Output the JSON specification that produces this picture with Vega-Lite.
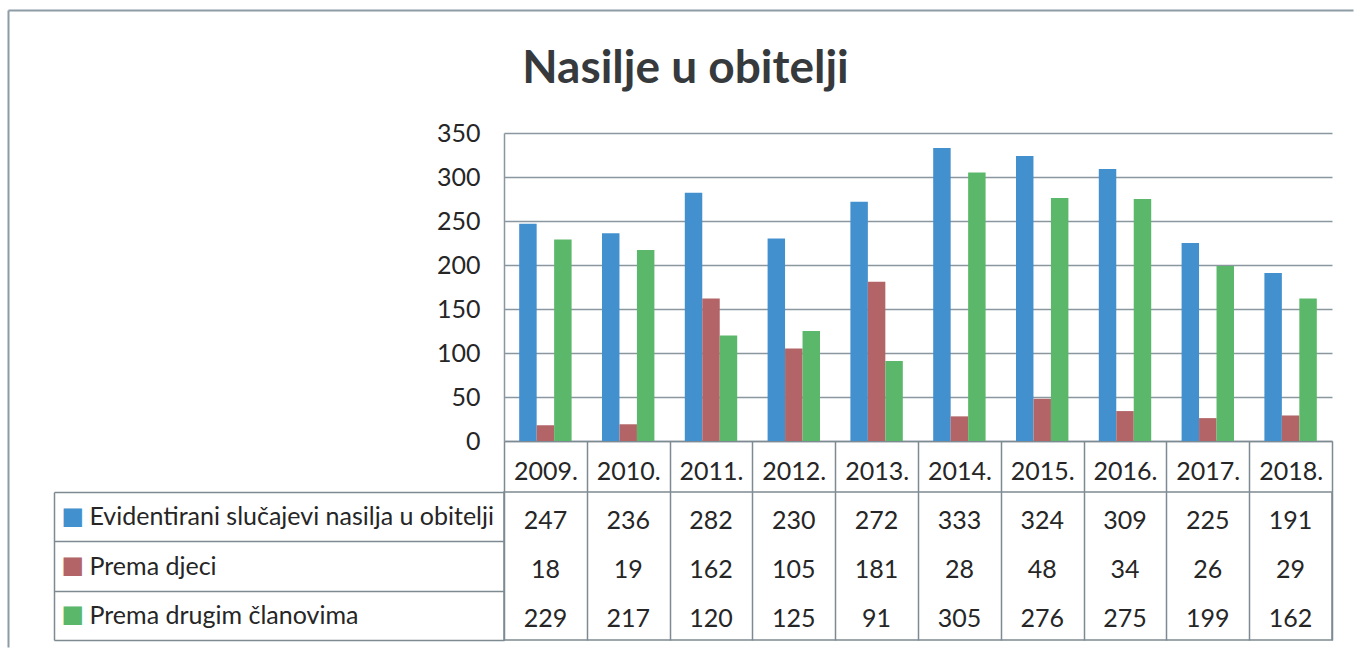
{
  "$schema": "https://vega.github.io/schema/vega-lite/v6.json",
  "background": "white",
  "padding": {"left": 8, "top": 10, "right": 0, "bottom": 0},
  "title": {"text": "Nasilje u obitelji", "font": "Lato", "fontSize": 46, "fontWeight": "bold", "color": "#363a3d", "anchor": "middle", "dx": -243, "offset": -83},
  "data": {"values": [
    {"year": "2009.", "series": "Evidentirani slučajevi nasilja u obitelji", "value": 247},
    {"year": "2009.", "series": "Prema djeci", "value": 18},
    {"year": "2009.", "series": "Prema drugim članovima", "value": 229},
    {"year": "2010.", "series": "Evidentirani slučajevi nasilja u obitelji", "value": 236},
    {"year": "2010.", "series": "Prema djeci", "value": 19},
    {"year": "2010.", "series": "Prema drugim članovima", "value": 217},
    {"year": "2011.", "series": "Evidentirani slučajevi nasilja u obitelji", "value": 282},
    {"year": "2011.", "series": "Prema djeci", "value": 162},
    {"year": "2011.", "series": "Prema drugim članovima", "value": 120},
    {"year": "2012.", "series": "Evidentirani slučajevi nasilja u obitelji", "value": 230},
    {"year": "2012.", "series": "Prema djeci", "value": 105},
    {"year": "2012.", "series": "Prema drugim članovima", "value": 125},
    {"year": "2013.", "series": "Evidentirani slučajevi nasilja u obitelji", "value": 272},
    {"year": "2013.", "series": "Prema djeci", "value": 181},
    {"year": "2013.", "series": "Prema drugim članovima", "value": 91},
    {"year": "2014.", "series": "Evidentirani slučajevi nasilja u obitelji", "value": 333},
    {"year": "2014.", "series": "Prema djeci", "value": 28},
    {"year": "2014.", "series": "Prema drugim članovima", "value": 305},
    {"year": "2015.", "series": "Evidentirani slučajevi nasilja u obitelji", "value": 324},
    {"year": "2015.", "series": "Prema djeci", "value": 48},
    {"year": "2015.", "series": "Prema drugim članovima", "value": 276},
    {"year": "2016.", "series": "Evidentirani slučajevi nasilja u obitelji", "value": 309},
    {"year": "2016.", "series": "Prema djeci", "value": 34},
    {"year": "2016.", "series": "Prema drugim članovima", "value": 275},
    {"year": "2017.", "series": "Evidentirani slučajevi nasilja u obitelji", "value": 225},
    {"year": "2017.", "series": "Prema djeci", "value": 26},
    {"year": "2017.", "series": "Prema drugim članovima", "value": 199},
    {"year": "2018.", "series": "Evidentirani slučajevi nasilja u obitelji", "value": 191},
    {"year": "2018.", "series": "Prema djeci", "value": 29},
    {"year": "2018.", "series": "Prema drugim članovima", "value": 162}
  ]},
  "bounds": "flush",
  "spacing": 51,
  "vconcat": [
    {
      "width": 828,
      "height": 308,
      "view": {"stroke": null},
      "layer": [
        {
          "mark": {"type": "bar"},
          "encoding": {
            "x": {"field": "year", "type": "nominal", "sort": null,
              "scale": {"paddingInner": 0, "paddingOuter": 0},
              "axis": {"orient": "bottom", "title": null, "labelAngle": 0, "domain": true, "domainColor": "#7d8a91", "domainWidth": 1.5,
                "ticks": true, "tickBand": "extent", "tickSize": 51, "tickColor": "#7d8a91", "tickWidth": 1.5,
                "labelPadding": -33, "labelFont": "Lato", "labelFontSize": 25, "labelColor": "#262626"}},
            "xOffset": {"field": "series", "type": "nominal",
              "sort": ["Evidentirani slučajevi nasilja u obitelji", "Prema djeci", "Prema drugim članovima"],
              "scale": {"paddingInner": 0, "paddingOuter": 0.87}},
            "y": {"field": "value", "type": "quantitative",
              "scale": {"domain": [0, 350], "nice": false},
              "axis": {"orient": "left", "title": null, "values": [0, 50, 100, 150, 200, 250, 300, 350], "grid": true, "gridColor": "#8a979e", "gridWidth": 1.5,
                "domain": true, "domainColor": "#8a979e", "domainWidth": 1.5, "ticks": false, "tickSize": 0,
                "labelPadding": 24, "labelFont": "Lato", "labelFontSize": 25, "labelColor": "#262626"}},
            "color": {"field": "series", "type": "nominal",
              "scale": {"domain": ["Evidentirani slučajevi nasilja u obitelji", "Prema djeci", "Prema drugim članovima"],
                        "range": ["#4390cf", "#b36466", "#5bb86a"]},
              "legend": null}
          }
        },
        {
          "mark": {"type": "text", "opacity": 0},
          "encoding": {
            "x": {"field": "year", "type": "nominal", "sort": null,
              "scale": {"range": [-496, 849]},
              "axis": {"orient": "top", "offset": 123, "title": null, "labels": false, "ticks": false, "grid": false,
                "domain": true, "domainColor": "#8d9ca5", "domainWidth": 2}},
            "y": {"field": "value", "type": "quantitative",
              "scale": {"domain": [0, 350], "nice": false, "range": [514, -123]},
              "axis": {"orient": "left", "offset": 496, "title": null, "labels": false, "ticks": false, "grid": false,
                "domain": true, "domainColor": "#8d9ca5", "domainWidth": 2}},
            "text": {"field": "value", "type": "quantitative"}
          }
        }
      ],
      "resolve": {"scale": {"x": "independent", "y": "independent"}, "axis": {"x": "independent", "y": "independent"}}
    },
    {
      "width": 828,
      "height": 148,
      "view": {"stroke": "#7d8a91", "strokeWidth": 1.5},
      "layer": [
        {
          "mark": {"type": "text", "font": "Lato", "fontSize": 25, "color": "#262626", "dy": 4},
          "encoding": {
            "x": {"field": "year", "type": "nominal", "sort": null,
              "scale": {"paddingInner": 0, "paddingOuter": 0},
              "axis": {"orient": "top", "title": null, "labels": false, "ticks": false, "domain": false,
                "grid": true, "tickBand": "extent", "gridColor": "#7d8a91", "gridWidth": 1.5}},
            "y": {"field": "series", "type": "nominal",
              "sort": ["Evidentirani slučajevi nasilja u obitelji", "Prema djeci", "Prema drugim članovima"],
              "scale": {"paddingInner": 0, "paddingOuter": 0},
              "axis": {"orient": "left", "title": null, "domain": false, "ticks": true, "tickBand": "extent", "tickSize": 450,
                "tickColor": "#7d8a91", "tickWidth": 1.5, "labelAlign": "left", "labelPadding": -35, "labelLimit": 600,
                "labelFont": "Lato", "labelFontSize": 25, "labelColor": "#262626"}},
            "text": {"field": "value", "type": "quantitative"}
          }
        },
        {
          "mark": {"type": "text", "opacity": 0},
          "encoding": {
            "y": {"field": "series", "type": "nominal",
              "sort": ["Evidentirani slučajevi nasilja u obitelji", "Prema djeci", "Prema drugim članovima"],
              "axis": {"orient": "left", "title": null, "offset": 450, "domain": true, "domainColor": "#7d8a91", "domainWidth": 1.5,
                "ticks": false, "tickSize": 0, "labelExpr": "'■'", "labelAlign": "left", "labelPadding": -7,
                "labelFont": "DejaVu Sans", "labelFontSize": 24,
                "labelColor": {"condition": [{"test": "datum.value == 'Prema djeci'", "value": "#b36466"}, {"test": "datum.value == 'Prema drugim članovima'", "value": "#5bb86a"}], "value": "#4390cf"}}},
            "text": {"field": "value", "type": "quantitative"}
          }
        }
      ],
      "resolve": {"axis": {"y": "independent"}}
    }
  ]
}
